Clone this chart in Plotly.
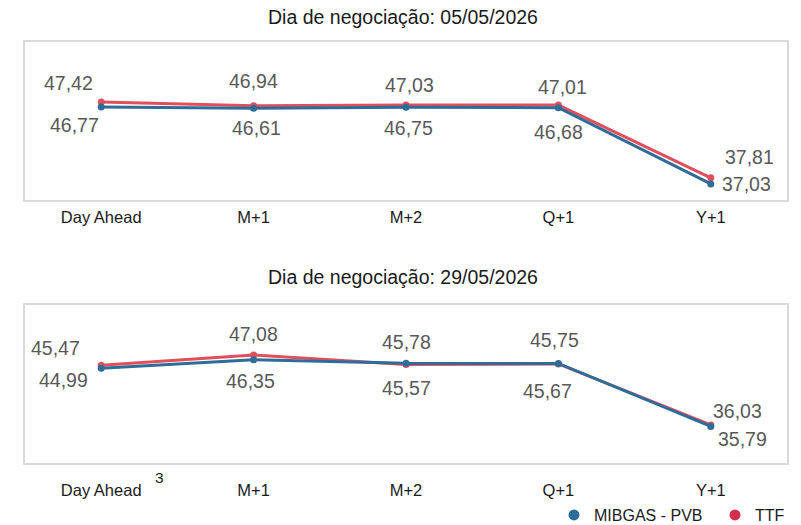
import plotly.graph_objects as go

categories = ["Day Ahead", "M+1", "M+2", "Q+1", "Y+1"]

# Trading day 05/05/2026
mibgas_1 = [46.77, 46.61, 46.75, 46.68, 37.03]
ttf_1 = [47.42, 46.94, 47.03, 47.01, 37.81]
# Trading day 29/05/2026
mibgas_2 = [44.99, 46.35, 45.78, 45.75, 35.79]
ttf_2 = [45.47, 47.08, 45.57, 45.67, 36.03]

title_1 = "Dia de negociação: 05/05/2026"
title_2 = "Dia de negociação: 29/05/2026"
series_names = ["MIBGAS - PVB", "TTF"]

BLUE = "#2E6D9A"
RED = "#E0505C"
LABEL = "#595959"
FONT = "Liberation Sans"

# label offsets (style only), pixels
off_ttf_1 = [(-33, 19), (0, 25), (3, 20), (4, 18), (39, 21)]
off_mib_1 = [(-27, -18), (3, -20), (2, -21), (0, -24), (36, 0)]
off_ttf_2 = [(-46, 17), (0, 21), (0, -23), (-11, -27), (27, 14)]
off_mib_2 = [(-38, -12), (-3, -21), (0, 21), (-4, 23), (32, -13)]

W, H = 801, 525
def px(x):
    return x / W
def py(y):
    return 1 - y / H

fig = go.Figure()

def add_pair(mib, ttf, xa, ya):
    fig.add_trace(go.Scatter(x=categories, y=ttf, mode="lines+markers", xaxis=xa, yaxis=ya,
                             line=dict(color=RED, width=3), marker=dict(color=RED, size=7),
                             showlegend=False, hoverinfo="skip"))
    fig.add_trace(go.Scatter(x=categories, y=mib, mode="lines+markers", xaxis=xa, yaxis=ya,
                             line=dict(color=BLUE, width=3), marker=dict(color=BLUE, size=7),
                             showlegend=False, hoverinfo="skip"))

add_pair(mibgas_1, ttf_1, "x", "y")
add_pair(mibgas_2, ttf_2, "x2", "y2")

# legend-only traces
fig.add_trace(go.Scatter(x=[None], y=[None], mode="markers", name=series_names[0],
                         marker=dict(color="#2E6D9A", size=11)))
fig.add_trace(go.Scatter(x=[None], y=[None], mode="markers", name=series_names[1],
                         marker=dict(color="#D0304E", size=11)))

annotations = []
def fmt(v):
    return f"{v:.2f}".replace(".", ",")

def add_labels(vals, offs, xref, yref):
    for c, v, (dx, dy) in zip(categories, vals, offs):
        annotations.append(dict(x=c, y=v, xref=xref, yref=yref, text=fmt(v), showarrow=False,
                                xshift=dx, yshift=dy, xanchor="center", yanchor="middle",
                                font=dict(family=FONT, size=19.5, color=LABEL)))

add_labels(ttf_1, off_ttf_1, "x", "y")
add_labels(mibgas_1, off_mib_1, "x", "y")
add_labels(ttf_2, off_ttf_2, "x2", "y2")
add_labels(mibgas_2, off_mib_2, "x2", "y2")

annotations.append(dict(x=px(403), y=py(17), xref="paper", yref="paper", text=title_1,
                        showarrow=False, xanchor="center", yanchor="middle",
                        font=dict(family=FONT, size=19.5, color="#1a1a1a")))
annotations.append(dict(x=px(403), y=py(277), xref="paper", yref="paper", text=title_2,
                        showarrow=False, xanchor="center", yanchor="middle",
                        font=dict(family=FONT, size=19.5, color="#1a1a1a")))
annotations.append(dict(x=px(159), y=py(477), xref="paper", yref="paper", text="3",
                        showarrow=False, xanchor="center", yanchor="middle",
                        font=dict(family=FONT, size=15.5, color="#1a1a1a")))

axis_common = dict(showline=True, mirror=True, linecolor="#D9D9D9", linewidth=2,
                   showgrid=False, zeroline=False, ticks="", fixedrange=True)

fig.update_layout(
    width=W, height=H,
    margin=dict(l=0, r=0, t=0, b=0, autoexpand=False),
    paper_bgcolor="white", plot_bgcolor="white",
    font=dict(family=FONT, color="#1a1a1a"),
    xaxis=dict(domain=[px(25), px(787)], anchor="y", range=[-0.5, 4.5],
               tickfont=dict(size=16.5, color="#1a1a1a"), ticklabelstandoff=1, **axis_common),
    yaxis=dict(domain=[py(200), py(42)], anchor="x", range=[35, 55], showticklabels=False,
               **axis_common),
    xaxis2=dict(domain=[px(25), px(787)], anchor="y2", range=[-0.5, 4.5],
                tickfont=dict(size=16.5, color="#1a1a1a"), ticklabelstandoff=11, **axis_common),
    yaxis2=dict(domain=[py(463), py(305)], anchor="x2", range=[30, 55], showticklabels=False,
                **axis_common),
    legend=dict(orientation="h", x=px(554), y=py(515), xanchor="left", yanchor="middle",
                font=dict(family=FONT, size=16, color="#1a1a1a"), itemwidth=30,
                entrywidth=116, bgcolor="rgba(0,0,0,0)", tracegroupgap=0),
    annotations=annotations,
    showlegend=True,
)

fig.write_html(
    "out.html",
    config={"displayModeBar": False},
    post_script=(
        "document.documentElement.style.margin='0';"
        "document.body.style.margin='0';"
        "document.body.style.overflow='hidden';"
        "document.documentElement.style.overflow='hidden';"
    ),
)
